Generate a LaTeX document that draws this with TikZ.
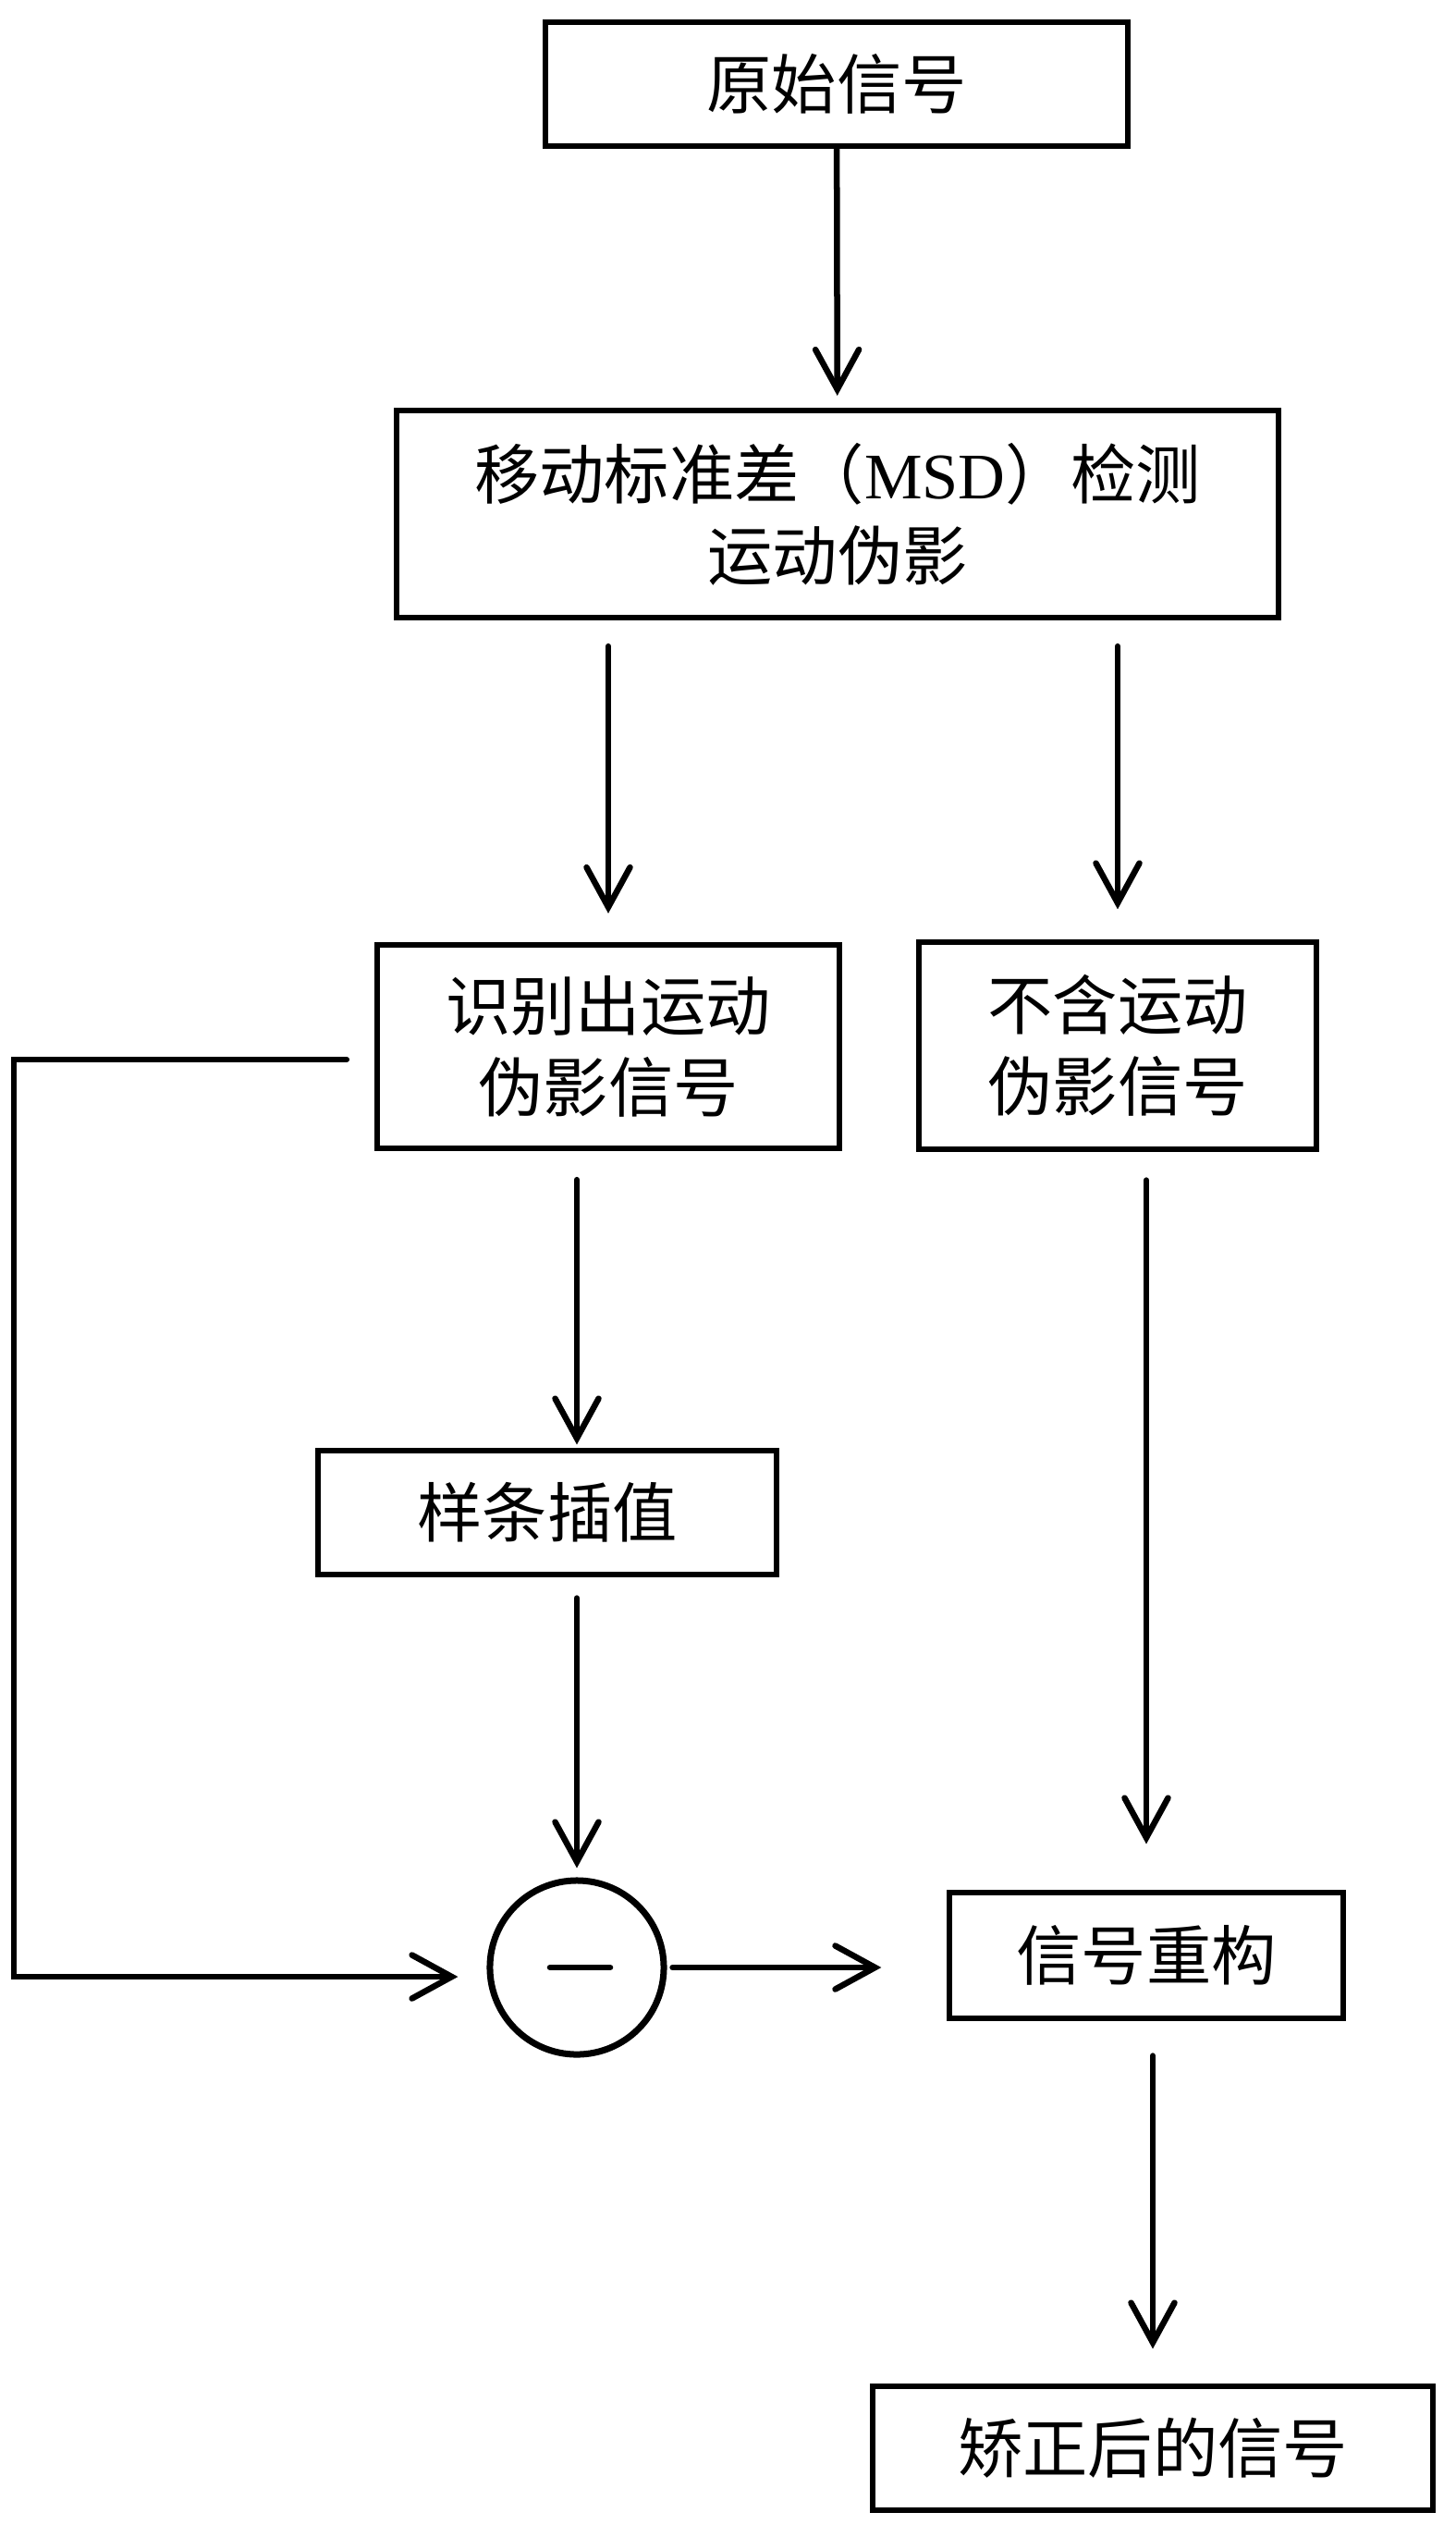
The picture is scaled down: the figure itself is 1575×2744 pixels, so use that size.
\documentclass[tikz,border=0pt]{standalone}
\usepackage{fontspec}
\setmainfont{Liberation Serif}
\newfontfamily\cjk{Noto Sans CJK SC}
\usepackage{tikz}
\usetikzlibrary{arrows.meta,shapes}

\tikzset{
    stepbox/.style={draw, line width=0.06cm, rectangle, align=center,
        font=\fontsize{20}{25}\selectfont\cjk},
    arr/.style={line width=0.065cm, line cap=round,
        -{Straight Barb[length=0.43cm,width=0.47cm,line cap=round]}},
    subnode/.style={draw, circle, line width=0.07cm, minimum size=1.88cm, inner sep=0pt}
}

\begin{document}
\begin{tikzpicture}[x=0.01cm, y=-0.01cm]
        \useasboundingbox (0,0) rectangle (1575,2744);
        % boxes
        \node[stepbox, minimum width=6.3cm, minimum height=1.34cm] (src) at (905,91) {原始信号};
        \node[stepbox, minimum width=9.53cm, minimum height=2.24cm] (msd) at (906,556)
            {移动标准差（{\rmfamily MSD}）检测\\运动伪影};
        \node[stepbox, minimum width=5cm, minimum height=2.2cm] (art) at (658,1132) {识别出运动\\伪影信号};
        \node[stepbox, minimum width=4.29cm, minimum height=2.23cm] (clean) at (1209,1131) {不含运动\\伪影信号};
        \node[stepbox, minimum width=4.95cm, minimum height=1.33cm] (spline) at (592,1636) {样条插值};
        \node[subnode] (minus) at (624,2128) {};
        \node[stepbox, minimum width=4.25cm, minimum height=1.35cm] (recon) at (1240,2115) {信号重构};
        \node[stepbox, minimum width=6.05cm, minimum height=1.33cm] (out) at (1247,2648) {矫正后的信号};
        % minus sign
        \draw[line width=0.065cm, line cap=round] ([xshift=-0.29cm]minus.center) -- ([xshift=0.36cm]minus.center);
        % connectors
        \draw[arr, shorten >=0.13cm] (src) -- (msd);
        \draw[arr, shorten <=0.28cm, shorten >=0.31cm] (msd.south -| art) -- (art.north);
        \draw[arr, shorten <=0.28cm, shorten >=0.33cm] (msd.south -| clean) -- (clean.north);
        \draw[arr, shorten <=0.31cm, shorten >=0.04cm] (art.south -| minus) -- (spline.north -| minus);
        \draw[arr, shorten <=0.23cm, shorten >=0.1cm] (spline.south -| minus) -- (minus.north);
        \draw[arr, shorten <=0.31cm, shorten >=0.5cm] (clean.south -| recon) -- (recon.north);
        \draw[arr, shorten <=0.38cm, shorten >=0.38cm] (recon.south -| out) -- (out.north);
        \draw[arr, shorten <=0.06cm, shorten >=0.71cm] (minus.east) -- (minus.east -| recon.west);
        \draw[arr] ([xshift=-0.3cm,yshift=-0.14cm]art.west) -- ++(-360,0) |- ([xshift=-0.31cm,yshift=-0.1cm]minus.west);
\end{tikzpicture}
\end{document}
